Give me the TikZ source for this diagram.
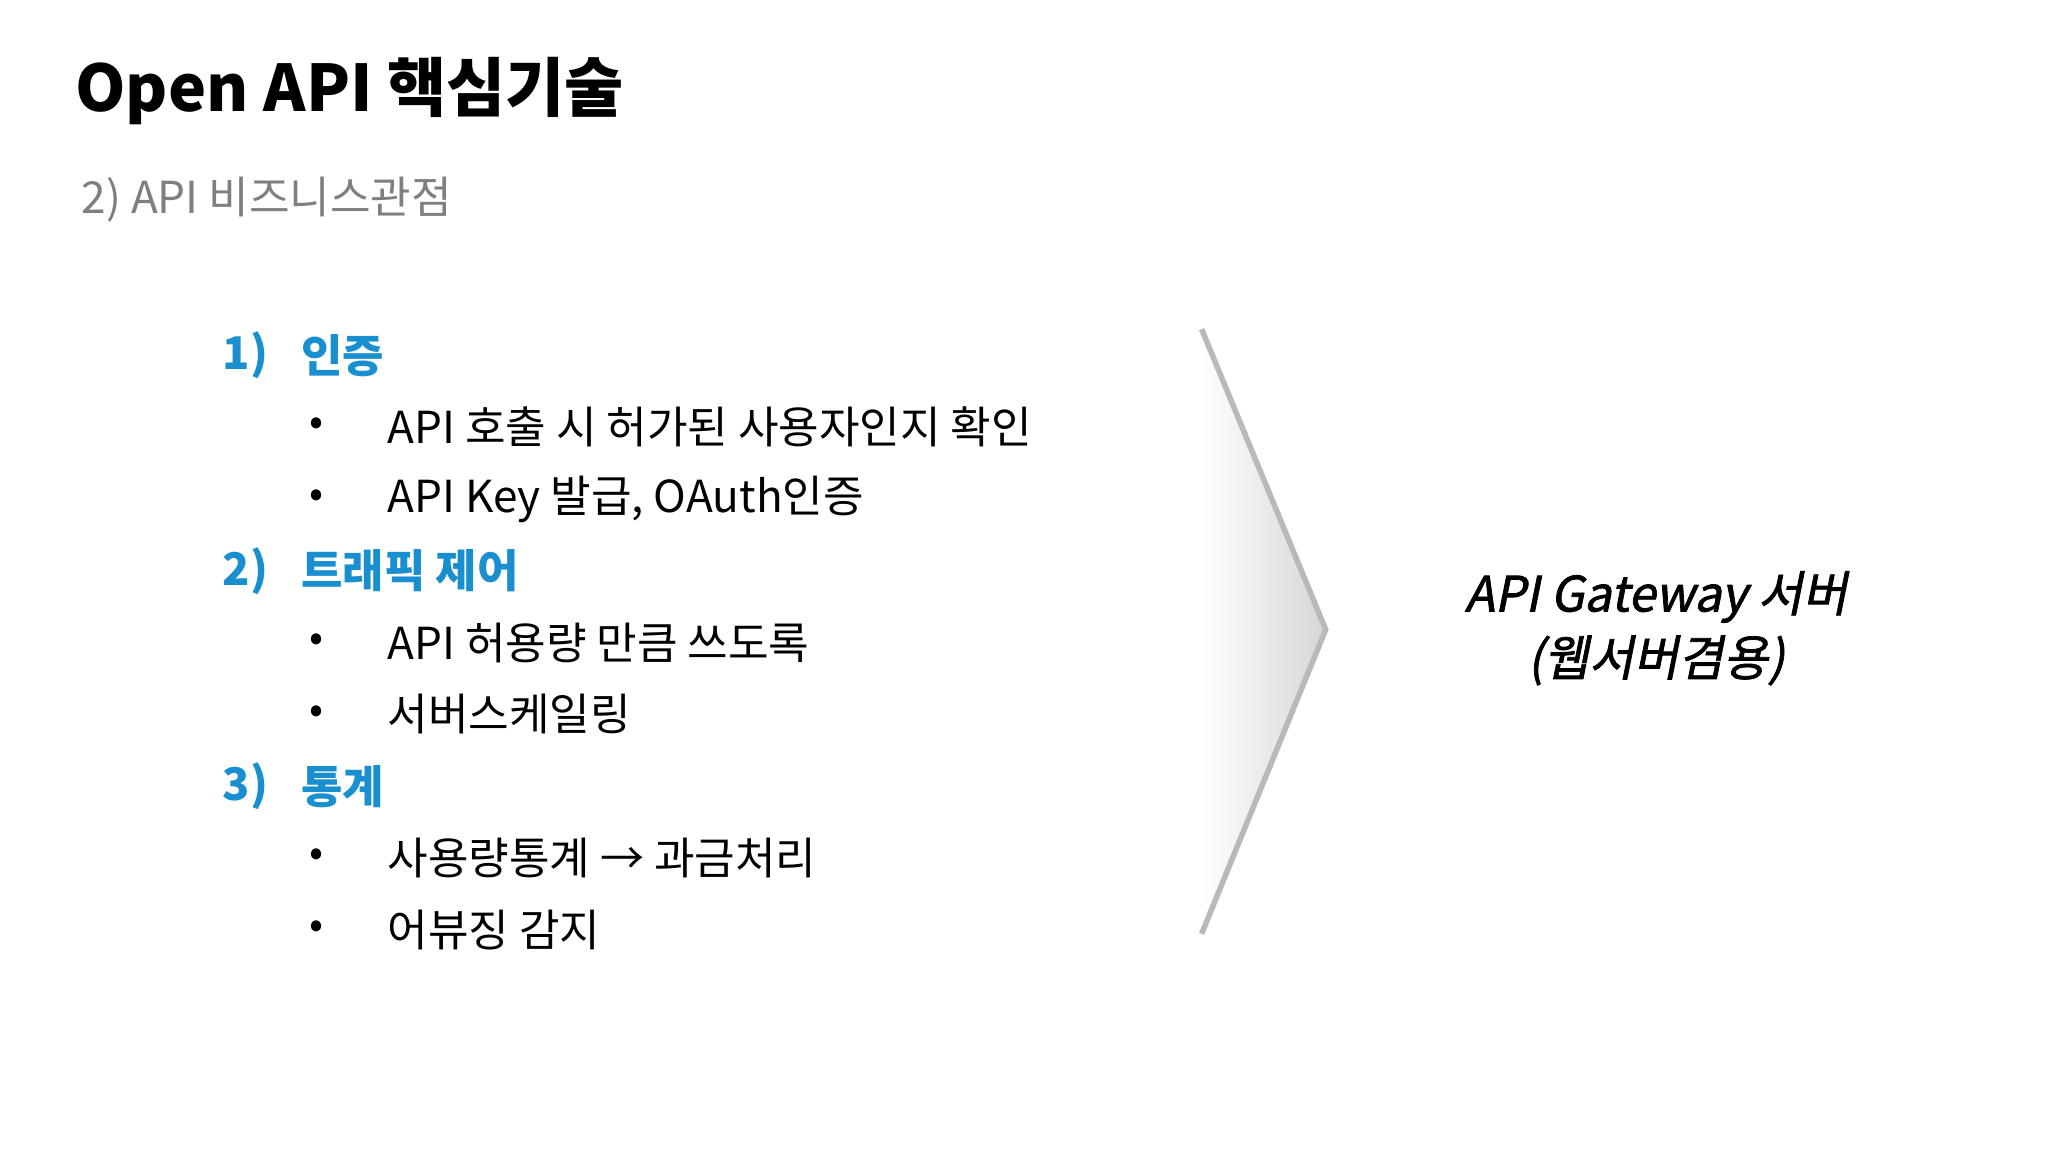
\documentclass[tikz,border=0pt]{standalone}
\usepackage{fontspec}
\setmainfont{Noto Sans CJK KR}
\newfontfamily\slantkr[FakeSlant=0.2,FakeBold=1.5]{Noto Sans CJK KR}
\definecolor{hblue}{HTML}{1A8FD0}
\definecolor{sgray}{HTML}{7F7F7F}
\begin{document}
\begin{tikzpicture}[x=0.01cm,y=-0.01cm,
  title/.style={anchor=west,inner sep=0,font=\fontsize{14}{16}\selectfont\bfseries},
  sub/.style={anchor=west,inner sep=0,text=sgray,font=\fontsize{9.6}{11}\selectfont},
  head/.style={anchor=west,inner sep=0,text=hblue,font=\fontsize{9.8}{11}\selectfont\bfseries},
  item/.style={anchor=west,inner sep=0,font=\fontsize{9.6}{11}\selectfont},
  bul/.style={anchor=center,inner sep=0,font=\fontsize{9}{11}\selectfont},
  gw/.style={align=center,inner sep=0,font=\fontsize{10.6}{14}\selectfont\slantkr}]
\useasboundingbox (0,0) rectangle (1568,882);
\fill[white] (0,0) rectangle (1568,882);
\node[title] (t) at (57,70) {Open API 핵심기술};
\node[sub] (s) at (62,153) {2) API 비즈니스관점};
\foreach \n/\y/\a/\b in {h1/272/1)/인증, h2/437/2)/트래픽 제어, h3/602/3)/통계}{
  \node[head] (\n n) at (170,\y) {\a};
  \node[head] (\n) at (230,\y) {\b};
}
\foreach \n/\y/\t in {i1/327/API 호출 시 허가된 사용자인지 확인, i2/382/{API Key 발급, OAuth인증}, i3/492/API 허용량 만큼 쓰도록, i4/547/서버스케일링, i5/657/사용량통계 → 과금처리, i6/712/어뷰징 감지}{
  \node[bul] (\n b) at (242,\y) {•};
  \node[item] (\n) at (296,\y) {\t};
}
\shade[left color=white,right color=gray!32,draw=none] (920,252) -- (1015,482) -- (920,715) -- cycle;
\draw[gray!55,line width=1.2pt] (920,252) -- (1015,482) -- (920,715);
\node[gw] (g) at (1268,481) {API Gateway 서버\\(웹서버겸용)};
\end{tikzpicture}
\end{document}
